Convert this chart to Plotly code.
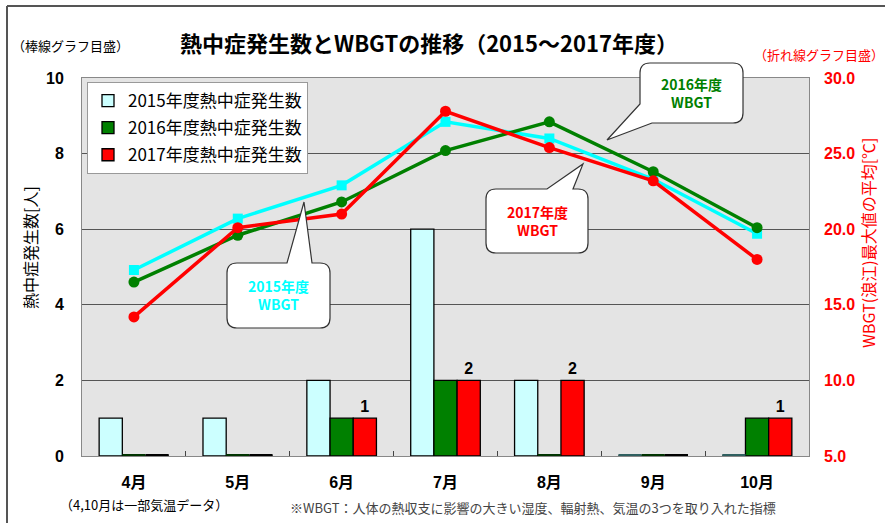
import plotly.graph_objects as go

months = ["4月", "5月", "6月", "7月", "8月", "9月", "10月"]
cases_2015 = [1, 1, 2, 6, 2, 0, 0]
cases_2016 = [0, 0, 1, 2, 0, 0, 1]
cases_2017 = [0, 0, 1, 2, 2, 0, 1]
wbgt_2015 = [17.3, 20.7, 22.9, 27.1, 26.0, 23.3, 19.7]
wbgt_2016 = [16.5, 19.6, 21.8, 25.2, 27.1, 23.8, 20.1]
wbgt_2017 = [14.2, 20.1, 21.0, 27.8, 25.4, 23.2, 18.0]
left_ticks = [0, 2, 4, 6, 8, 10]
right_ticks = [5, 10, 15, 20, 25, 30]

W, H = 891, 523
L, R, T, B = 82, 809, 78, 456

def px(x, y):
    return (x - L) / (R - L), (B - y) / (B - T)

def path_from(cmds):
    out = []
    for c in cmds:
        if c[0] == "Z":
            out.append("Z")
        elif c[0] == "Q":
            a, b = px(c[1], c[2]); d, e = px(c[3], c[4])
            out.append(f"Q{a:.5f},{b:.5f} {d:.5f},{e:.5f}")
        else:
            a, b = px(c[1], c[2])
            out.append(f"{c[0]}{a:.5f},{b:.5f}")
    return " ".join(out)

JP = "Noto Sans CJK JP"
NUM = "Liberation Sans, Noto Sans CJK JP"

fig = go.Figure()
fig.add_trace(go.Bar(x=months, y=cases_2015, name="2015年度熱中症発生数",
                     marker=dict(color="#CCFFFF", line=dict(color="#000", width=1.3)),
                     legendgroup="a", offsetgroup="0"))
fig.add_trace(go.Bar(x=months, y=cases_2016, name="2016年度熱中症発生数",
                     marker=dict(color="#008000", line=dict(color="#000", width=1.3)),
                     legendgroup="b", offsetgroup="1"))
fig.add_trace(go.Bar(x=months, y=cases_2017, name="2017年度熱中症発生数",
                     marker=dict(color="#FF0000", line=dict(color="#000", width=1.3)),
                     text=[str(v) if v > 0 else "" for v in cases_2017],
                     textposition="outside", cliponaxis=False,
                     textfont=dict(family=NUM, size=16, color="#000", weight="bold"),
                     legendgroup="c", offsetgroup="2"))

# zero-count bars appear as thin dark strips at the baseline in the original
zero_colors = ["#2F5F5F", "#003300", "#000000"]
for k, series in enumerate([cases_2015, cases_2016, cases_2017]):
    fig.add_trace(go.Bar(x=months, y=[0.04 if v == 0 else None for v in series],
                         marker=dict(color=zero_colors[k], line=dict(width=0)),
                         showlegend=False, hoverinfo="skip", offsetgroup=str(k)))

fig.add_trace(go.Scatter(x=months, y=wbgt_2015, yaxis="y2", mode="lines+markers",
                         line=dict(color="#00FFFF", width=3.5),
                         marker=dict(symbol="square", size=10, color="#00FFFF"),
                         showlegend=False))
fig.add_trace(go.Scatter(x=months, y=wbgt_2016, yaxis="y2", mode="lines+markers",
                         line=dict(color="#008000", width=3.5),
                         marker=dict(symbol="circle", size=11, color="#008000"),
                         showlegend=False))
fig.add_trace(go.Scatter(x=months, y=wbgt_2017, yaxis="y2", mode="lines+markers",
                         line=dict(color="#FF0000", width=3.5),
                         marker=dict(symbol="circle", size=11, color="#FF0000"),
                         showlegend=False))

shapes = []
callouts = [
    [("M", 650, 63), ("L", 733, 63), ("Q", 743, 63, 743, 73), ("L", 743, 113),
     ("Q", 743, 123, 733, 123), ("L", 652, 123), ("L", 607, 140), ("L", 640, 104),
     ("L", 640, 73), ("Q", 640, 63, 650, 63), ("Z",)],
    [("M", 496, 189), ("L", 547, 189), ("L", 583, 164), ("L", 573, 189), ("L", 578, 189),
     ("Q", 588, 189, 588, 199), ("L", 588, 243), ("Q", 588, 253, 578, 253), ("L", 496, 253),
     ("Q", 486, 253, 486, 243), ("L", 486, 199), ("Q", 486, 189, 496, 189), ("Z",)],
    [("M", 237, 263), ("L", 287, 263), ("L", 304, 202), ("L", 312, 263), ("L", 320, 263),
     ("Q", 330, 263, 330, 273), ("L", 330, 318), ("Q", 330, 328, 320, 328), ("L", 237, 328),
     ("Q", 227, 328, 227, 318), ("L", 227, 273), ("Q", 227, 263, 237, 263), ("Z",)],
]
for c in callouts:
    shapes.append(dict(type="path", xref="paper", yref="paper", path=path_from(c),
                       fillcolor="white", line=dict(color="#333", width=1.2), layer="above"))

# outer frame (top and left)
x0, y0 = px(7, 6)
x1, _ = px(885, 6)
_, yb = px(7, 523)
shapes.append(dict(type="line", xref="paper", yref="paper", x0=x0, y0=y0, x1=x1, y1=y0,
                   line=dict(color="#555", width=2)))
shapes.append(dict(type="line", xref="paper", yref="paper", x0=x0, y0=y0, x1=x0, y1=yb,
                   line=dict(color="#555", width=2)))

annotations = []
def ann(text, x, y, size, color="#000", bold=False, family=JP, angle=0, xanchor="center"):
    a, b = px(x, y)
    annotations.append(dict(text=text, x=a, y=b, xref="paper", yref="paper", showarrow=False,
                            xanchor=xanchor, yanchor="middle", textangle=angle,
                            font=dict(family=family, size=size, color=color,
                                      weight="bold" if bold else "normal")))

ann("熱中症発生数とWBGTの推移（2015～2017年度）", 429, 42, 22, bold=True)
ann("（棒線グラフ目盛）", 10, 45, 13, xanchor="left")
ann("（折れ線グラフ目盛）", 886, 55, 13, color="#FF0000", xanchor="right")
ann("熱中症発生数[人]", 30, 248, 16, angle=-90)
ann("WBGT(浪江)最大値の平均[℃]", 868, 243, 16, color="#FF0000", angle=-90)
ann("（4,10月は一部気温データ）", 58, 505, 13, xanchor="left")
ann("※WBGT：人体の熱収支に影響の大きい湿度、輻射熱、気温の3つを取り入れた指標", 533, 507, 13,
    color="#444")
ann("2016年度<br>WBGT", 691, 93, 14, color="#008000", bold=True)
ann("2017年度<br>WBGT", 537, 221, 14, color="#FF0000", bold=True)
ann("2015年度<br>WBGT", 278, 295, 14, color="#00FFFF", bold=True)

lx, ly = px(87, 82)
fig.update_layout(
    width=W, height=H,
    margin=dict(l=L, r=W - R, t=T, b=H - B, pad=0),
    paper_bgcolor="white", plot_bgcolor="#E4E4E4",
    barmode="group", bargap=0.33, bargroupgap=0,
    font=dict(family=JP, color="#000"),
    showlegend=True,
    legend=dict(x=lx, y=ly, xanchor="left", yanchor="top", bgcolor="white",
                bordercolor="#999", borderwidth=1, traceorder="grouped", tracegroupgap=2,
                itemwidth=30,
                font=dict(family=JP, size=17, color="#000")),
    xaxis=dict(type="category", showline=True, linecolor="#888", linewidth=1, mirror=True,
               ticks="inside", tickson="boundaries", ticklen=5, tickcolor="#444",
               tickfont=dict(family=NUM, size=16, weight="bold"), ticklabelstandoff=12,
               showgrid=False),
    yaxis=dict(range=[0, 10], tickvals=left_ticks, showline=True, linecolor="#888",
               mirror=True, showgrid=True, gridcolor="#555", gridwidth=1, zeroline=False,
               tickfont=dict(family=NUM, size=16, weight="bold"), ticks="",
               ticklabelstandoff=14),
    yaxis2=dict(range=[5, 30], tickvals=right_ticks, tickformat=".1f", overlaying="y",
                side="right", showgrid=False, zeroline=False, showline=False,
                tickfont=dict(family=NUM, size=16, color="#FF0000", weight="bold"),
                ticklabelstandoff=14),
    shapes=shapes, annotations=annotations,
)

fig.write_html("out.html", config={"displayModeBar": False},
               post_script="document.body.style.margin='0px';document.body.style.padding='0px';")
